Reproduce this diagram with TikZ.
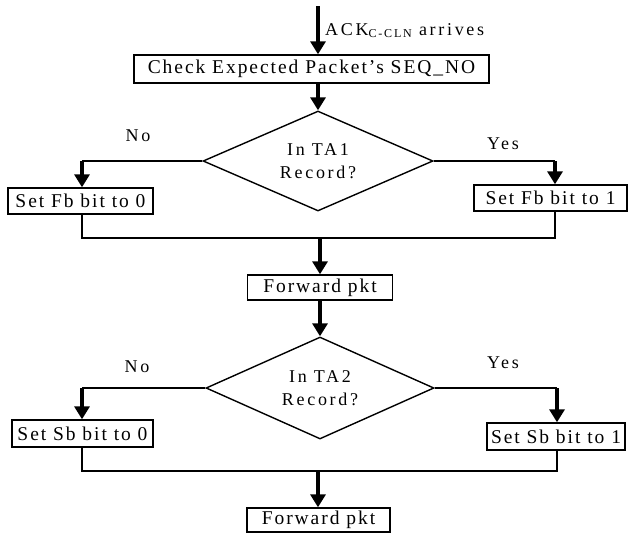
\documentclass[tikz,border=0pt]{standalone}
\usepackage{fontspec}
\setmainfont{Liberation Serif}
\usetikzlibrary{arrows.meta,shapes.geometric}

\begin{document}
\begin{tikzpicture}[x=1pt,y=-1pt,
  boxfont/.style={font=\fontsize{19.5}{21}\selectfont\addfontfeatures{LetterSpace=10}},
  lblfont/.style={font=\fontsize{18}{23}\selectfont\addfontfeatures{LetterSpace=15}},
  box/.style={draw,line width=1.4pt,rectangle,inner sep=0pt,boxfont},
  decision/.style={draw,line width=1.4pt,diamond,aspect=2.3,inner sep=0pt,
    align=center,lblfont},
  link/.style={line width=1.4pt},
  flow/.style={line width=3.6pt,-{Triangle[length=13pt,width=15pt]}},
  lbl/.style={lblfont,inner sep=0pt}]
\useasboundingbox (0,0) rectangle (628,533);

% ---- first stage: TA1 lookup ----
\coordinate (src) at (318,6);
\node[box,minimum width=355,minimum height=28] (chk) at (311.5,69)
  {Check Expected Packet's SEQ\_NO};
\node[lbl,anchor=base west] (ack) at (325,35)
  {ACK\raisebox{-2pt}{\fontsize{12}{12}\selectfont\addfontfeatures{LetterSpace=15}C-CLN} arrives};

\node[decision,minimum width=230,minimum height=100] (d1) at (318,161)
  {In TA1\\Record?};
\node[box,minimum width=145,minimum height=26] (fb0) at (80.5,201) {Set Fb bit to 0};
\node[box,minimum width=153,minimum height=26] (fb1) at (550.5,198) {Set Fb bit to 1};
\node[lbl] (no1) at (138,136) {No};
\node[lbl] (yes1) at (503,144) {Yes};

\coordinate (j1L) at (82,161);
\coordinate (j1R) at (555,161);
\coordinate (m1L) at (82,238);
\coordinate (m1R) at (555,238);
\coordinate (m1) at (320,238);

\node[box,minimum width=145,minimum height=25] (fwd1) at (320,287.5) {Forward pkt};

\draw[flow] (src) -- (src |- chk.north);
\draw[flow] (chk.south -| d1.north) -- (d1.north);
\draw[link] (d1.west) -- (j1L);
\draw[flow] (j1L) -- (j1L |- fb0.north);
\draw[link] (d1.east) -- (j1R);
\draw[flow] (j1R) -- (j1R |- fb1.north);
\draw[link] (fb0.south -| m1L) -- (m1L) -- (m1R) -- (fb1.south -| m1R);
\draw[flow] (m1) -- (m1 |- fwd1.north);

% ---- second stage: TA2 lookup ----
\node[decision,minimum width=228,minimum height=102] (d2) at (320,388)
  {In TA2\\Record?};
\node[box,minimum width=141,minimum height=27] (sb0) at (82.5,433.5) {Set Sb bit to 0};
\node[box,minimum width=138,minimum height=27] (sb1) at (556,436.5) {Set Sb bit to 1};
\node[lbl] (no2) at (137,367) {No};
\node[lbl] (yes2) at (503,363) {Yes};

\coordinate (j2L) at (82,388);
\coordinate (j2R) at (557,388);
\coordinate (m2L) at (82,471);
\coordinate (m2R) at (557,471);
\coordinate (m2) at (318,471);

\node[box,minimum width=143,minimum height=24] (fwd2) at (318.5,520) {Forward pkt};

\draw[flow] (fwd1.south) -- (d2.north);
\draw[link] (d2.west) -- (j2L);
\draw[flow] (j2L) -- (j2L |- sb0.north);
\draw[link] (d2.east) -- (j2R);
\draw[flow] (j2R) -- (j2R |- sb1.north);
\draw[link] (sb0.south -| m2L) -- (m2L) -- (m2R) -- (sb1.south -| m2R);
\draw[flow] (m2) -- (m2 |- fwd2.north);
\end{tikzpicture}
\end{document}
